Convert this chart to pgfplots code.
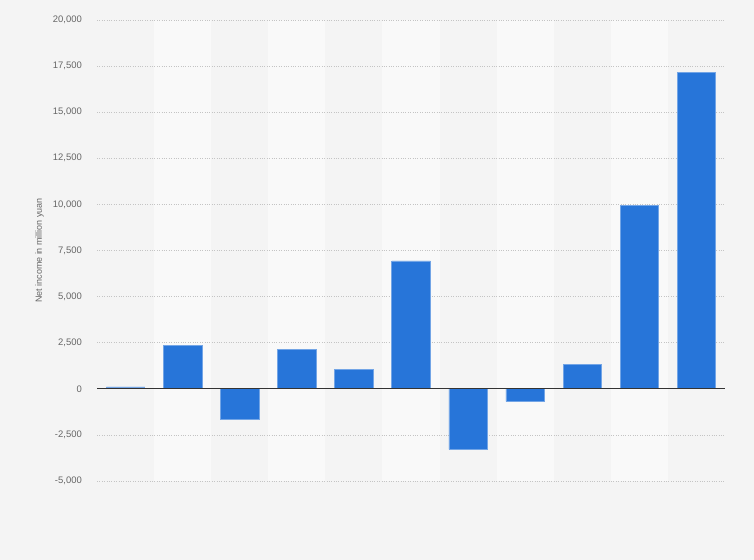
\documentclass[border=0pt]{standalone}
\usepackage{fontspec}
\setmainfont{Liberation Sans}
\usepackage{xcolor}
\usepackage{pgfplots}
\pgfplotsset{compat=1.18}

\definecolor{pagebg}{HTML}{F4F4F4}
\definecolor{bandbg}{HTML}{F9F9F9}
\definecolor{barblue}{HTML}{2775D9}
\definecolor{ticktext}{HTML}{666666}
\definecolor{gridgray}{HTML}{C4C4C4}

\pgfplotstableread{
idx value
0   100
1   2360
2   -1640
3   2120
4   1040
5   6940
6   -3280
7   -680
8   1310
9   9960
10  17170
}\incometable

\pagecolor{pagebg}

\begin{document}
\begin{tikzpicture}
\path (0,0) rectangle (754bp,560bp);
\begin{axis}[
  set layers,
  at={(97bp,79bp)}, anchor=south west,
  width=628bp, height=461bp, scale only axis,
  xmin=-0.5, xmax=10.5,
  ymin=-5000, ymax=20000,
  xtick=\empty,
  ytick={-5000,-2500,0,2500,5000,7500,10000,12500,15000,17500,20000},
  scaled y ticks=false,
  /pgf/number format/fixed,
  /pgf/number format/1000 sep={,},
  /pgf/number format/assume math mode=true,
  every y tick label/.append style={inner sep=0pt, xshift=-15bp,
    text=ticktext, font=\fontsize{9.5}{11}\selectfont},
  major tick length=0pt,
  axis line style={draw=none},
  ymajorgrids,
  grid style={dotted, gridgray, line width=0.7bp},
  ylabel={Net income in million yuan},
  every axis y label/.style={at={(axis description cs:0,0.5)}, rotate=90,
    anchor=center, yshift=57.5bp, text=ticktext,
    font=\fontsize{9}{11}\selectfont},
]
% alternating category bands
\foreach \b in {1,3,5,7,9} {
  \edef\temp{\noexpand\addplot[fill=bandbg, draw=none, on layer=axis background]
    coordinates {(\b-0.5,-5000) (\b-0.5,20000) (\b+0.5,20000) (\b+0.5,-5000)} -- cycle;}
  \temp
}
\addplot[ybar, bar width=38.5bp, fill=barblue, draw=barblue!65!white,
  line width=0.6bp] table[x=idx, y=value] {\incometable};
\addplot[draw=black!80, line width=1.2bp] coordinates {(-0.5,0) (10.5,0)};
\end{axis}
\end{tikzpicture}
\end{document}
